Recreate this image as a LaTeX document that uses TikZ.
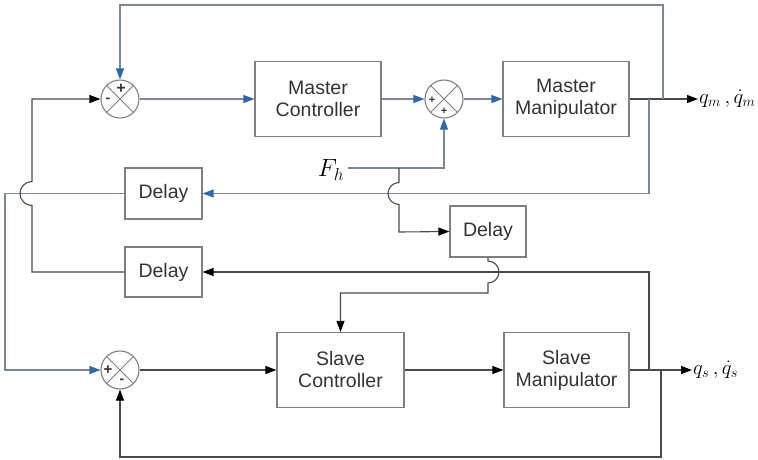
\documentclass[tikz,border=0pt]{standalone}
\usepackage{fontspec}
\setmainfont{Liberation Sans}
\usetikzlibrary{arrows.meta}

\definecolor{headblue}{HTML}{2F66B0}
\definecolor{wireblue}{HTML}{7C8895}
\definecolor{wiredark}{HTML}{4A4A4A}
\definecolor{boxgray}{HTML}{7F7F7F}
\definecolor{inkgray}{HTML}{333333}

\tikzset{
  block/.style={draw=boxgray, line width=1.2pt, inner sep=0pt, align=center,
    font=\fontsize{19.5}{22}\selectfont, text=inkgray},
  sumnode/.style={circle, draw=boxgray, line width=1.1pt, minimum size=38pt, inner sep=0pt,
    path picture={\draw[boxgray, line width=1pt]
      (path picture bounding box.north west) -- (path picture bounding box.south east)
      (path picture bounding box.north east) -- (path picture bounding box.south west);}},
  sign/.style={inner sep=0pt, text=inkgray},
  bwire/.style={draw=wireblue, line width=1.1pt},
  dwire/.style={draw=wiredark, line width=1.1pt},
  barrow/.style={bwire, -{Triangle[length=11pt,width=8pt,color=headblue]}},
  darrow/.style={dwire, -{Triangle[length=11pt,width=8pt,color=black]}},
  mathlabel/.style={anchor=west, inner sep=1pt, font=\fontsize{21}{24}\selectfont}
}

\begin{document}
\begin{tikzpicture}[x=1pt,y=1pt]
\useasboundingbox (0,0) rectangle (758,-459);

% ---- master side ----
\node[sumnode] (S1) at (120,-99) {};
\node[sign, font=\fontsize{16}{16}\selectfont\bfseries] (S1p) at (121,-89) {+};
\node[sign, font=\fontsize{14}{14}\selectfont\bfseries] (S1m) at (108,-100) {-};

\node[block, minimum width=126pt, minimum height=75pt] (MC) at (318,-99) {Master\\Controller};

\node[sumnode] (S2) at (444,-99) {};
\node[sign, font=\fontsize{11}{11}\selectfont\bfseries] (S2l) at (432,-100) {+};
\node[sign, font=\fontsize{11}{11}\selectfont\bfseries] (S2b) at (444,-111) {+};

\node[block, minimum width=126pt, minimum height=75pt] (MM) at (566,-99) {Master\\Manipulator};

\node[mathlabel] (qm) at (698,-99) {$q_{m}\,,\dot{q}_{m}$};

% ---- delays ----
\node[block, minimum width=77pt, minimum height=51pt] (D1) at (163.5,-193.5) {Delay};
\node[block, minimum width=77pt, minimum height=50pt] (D2) at (163.5,-272) {Delay};
\node[block, minimum width=76pt, minimum height=51pt] (D3) at (488,-231.5) {Delay};

\node[inner sep=0pt, font=\fontsize{23}{26}\selectfont] (Fh) at (331,-170) {$F_{h}$};

% ---- slave side ----
\node[sumnode] (S3) at (120,-370) {};
\node[sign, font=\fontsize{15}{15}\selectfont\bfseries] (S3p) at (108,-370) {+};
\node[sign, font=\fontsize{14}{14}\selectfont\bfseries] (S3m) at (122,-381) {-};

\node[block, minimum width=127pt, minimum height=75pt] (SC) at (340.5,-370) {Slave\\Controller};
\node[block, minimum width=125pt, minimum height=75pt] (SM) at (566.5,-370) {Slave\\Manipulator};

\node[mathlabel] (qs) at (692,-370) {$q_{s}\,,\dot{q}_{s}$};

% branch points
\coordinate (mtapA) at (649,-99);
\coordinate (mtapB) at (663,-99);
\coordinate (stapA) at (649,-370);
\coordinate (stapB) at (661,-370);
\coordinate (fhtap) at (399,-168);

% ---- master connections ----
\draw[barrow] (S1) -- (MC);
\draw[barrow] (MC) -- (S2);
\draw[barrow] (S2) -- (MM);
\draw[darrow] (MM.east) -- (qm.west);
\draw[barrow] (mtapB) -- (663,-5) -- (120,-5) -- (S1.north);
\draw[barrow] (mtapA) -- (649,-193.5) -- (D1.east);

% human force into the master summing junction and through the delay
\draw[barrow] (348,-168) -- (444,-168) -- (S2.south);
\draw[darrow] (fhtap) -- (399,-182.5) arc[start angle=90, end angle=270, radius=11]
  -- (399,-232) -- (D3.west);

% delayed master output into the slave summing junction
\draw[barrow] (D1.west) -- (5,-193.5) -- (5,-370) -- (S3.west);

% delayed slave output back to the master summing junction
\draw[darrow] (D2.west) -- (32,-272) -- (32,-205.5) arc[start angle=270, end angle=90, radius=12]
  -- (32,-99) -- (S1.west);

% ---- slave connections ----
\draw[darrow] (S3) -- (SC);
\draw[darrow] (SC) -- (SM);
\draw[darrow] (SM.east) -- (qs.west);
\draw[darrow] (stapA) -- (649,-272) -- (D2.east);
\draw[darrow] (stapB) -- (661,-457) -- (120,-457) -- (S3.south);
\draw[darrow] (D3.south) -- (488,-261) arc[start angle=90, end angle=-90, radius=11]
  -- (488,-293) -- (340.5,-293) -- (SC.north);
\end{tikzpicture}
\end{document}
